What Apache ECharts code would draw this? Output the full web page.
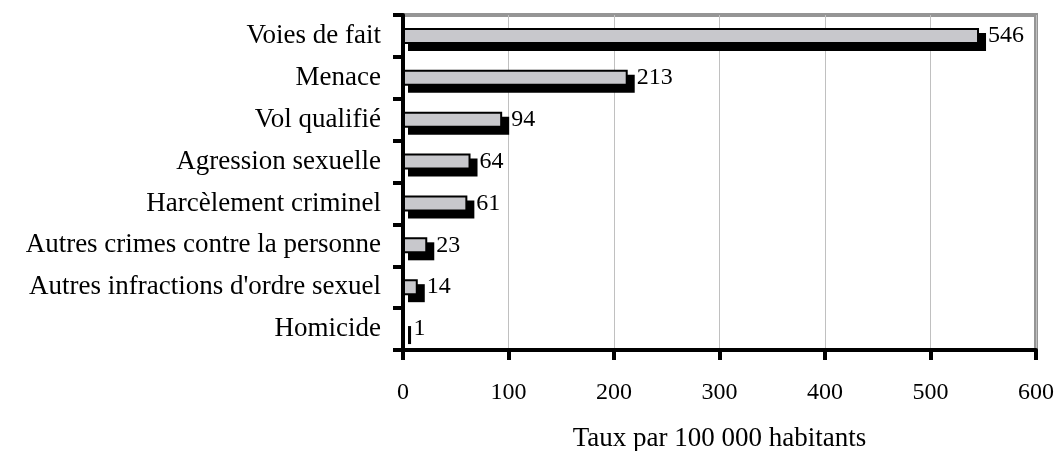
<!DOCTYPE html>
<html>
<head>
<meta charset="utf-8">
<script src="https://cdn.jsdelivr.net/npm/echarts@6/dist/echarts.min.js"></script>
<style>
  html, body { margin: 0; padding: 0; background: #fff; }
  #chart { width: 1058px; height: 451px; }
</style>
</head>
<body>
<div id="chart"></div>
<script>
// catégories, du haut vers le bas
const categories = [
  'Voies de fait',
  'Menace',
  'Vol qualifié',
  'Agression sexuelle',
  'Harcèlement criminel',
  'Autres crimes contre la personne',
  "Autres infractions d'ordre sexuel",
  'Homicide'
]
const rates = [546, 213, 94, 64, 61, 23, 14, 1]
const xTicks = [0, 100, 200, 300, 400, 500, 600]
const xName = 'Taux par 100 000 habitants'

const serif = "'Liberation Serif', 'Times New Roman', serif"
const BAR_W = 16

const chart = echarts.init(document.getElementById('chart'), null, { renderer: 'canvas' })

// ombre noire décalée derrière chaque barre
function renderShadow(params, api) {
  const v = api.value(0)
  const c = api.value(1)
  const start = api.coord([0, c])
  const end = api.coord([v, c])
  const half = BAR_W / 2 + 1
  return {
    type: 'rect',
    shape: {
      x: start[0] - 1 + 6,
      y: start[1] - half + 6,
      width: end[0] - start[0] + 2,
      height: half * 2
    },
    style: { fill: '#000' }
  }
}

chart.setOption({
  animation: false,
  textStyle: { fontFamily: serif, color: '#000' },
  grid: {
    left: 403,
    right: 22,
    top: 15,
    bottom: 101,
    outerBoundsMode: 'none',
    containLabel: false,
    show: true,
    borderColor: '#959595',
    borderWidth: 4,
    backgroundColor: '#fff'
  },
  xAxis: {
    type: 'value',
    min: xTicks[0],
    max: xTicks[xTicks.length - 1],
    interval: 100,
    name: xName,
    nameLocation: 'middle',
    nameGap: 75,
    nameTextStyle: { fontFamily: serif, fontSize: 27, color: '#000' },
    axisLine: { show: true, lineStyle: { color: '#000', width: 4 } },
    axisTick: { show: true, length: 10, lineStyle: { color: '#000', width: 4 } },
    axisLabel: { fontFamily: serif, fontSize: 24, color: '#000', margin: 31 },
    splitLine: { show: true, lineStyle: { color: '#c0c0c0', width: 1 } }
  },
  yAxis: {
    type: 'category',
    inverse: true,
    data: categories,
    axisLine: { show: true, lineStyle: { color: '#000', width: 4 } },
    axisTick: { show: true, length: 10, lineStyle: { color: '#000', width: 4 } },
    axisLabel: { fontFamily: serif, fontSize: 27, color: '#000', margin: 22 },
    splitLine: { show: false }
  },
  series: [
    {
      type: 'custom',
      z: 1,
      renderItem: renderShadow,
      encode: { x: 0, y: 1 },
      data: rates.map((v, i) => [v, i]),
      silent: true
    },
    {
      type: 'bar',
      z: 2,
      data: rates,
      barWidth: BAR_W,
      itemStyle: {
        color: '#c8c8cc',
        borderColor: '#000',
        borderWidth: 2
      },
      label: {
        show: true,
        position: 'right',
        distance: 9,
        fontFamily: serif,
        fontSize: 24,
        color: '#000'
      },
      emphasis: { disabled: true }
    }
  ]
})
</script>
</body>
</html>
